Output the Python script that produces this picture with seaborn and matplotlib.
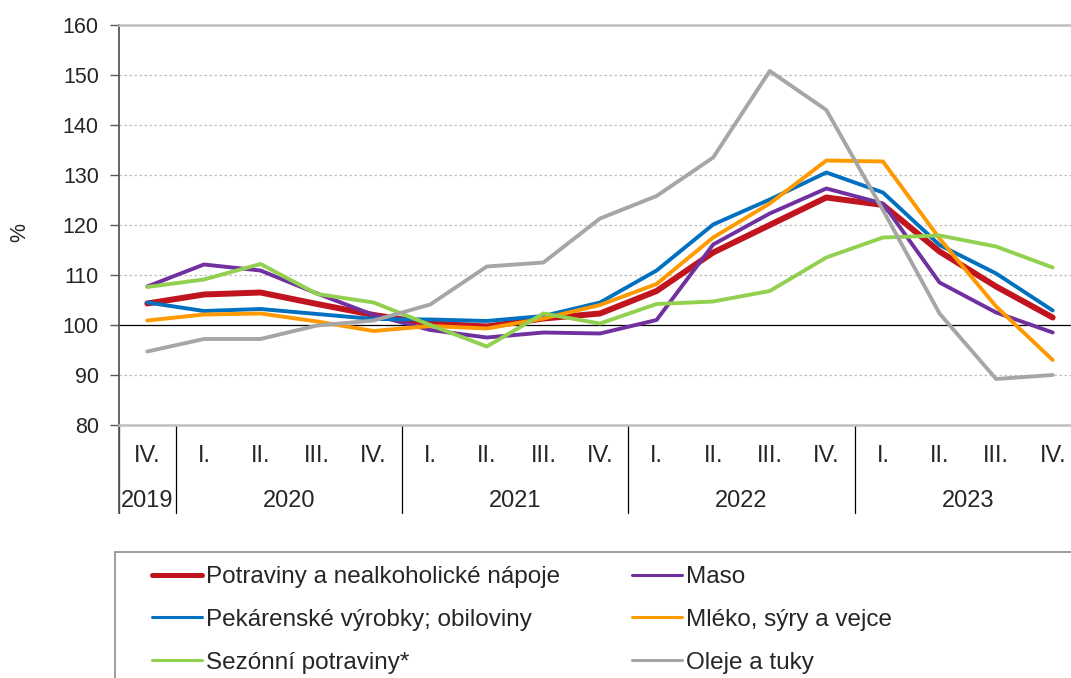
import numpy as np
import pandas as pd
import seaborn as sns
from matplotlib import pyplot as plt
from matplotlib.lines import Line2D
from matplotlib.patches import Rectangle
import matplotlib.transforms as mtransforms

quarters = ["IV.", "I.", "II.", "III.", "IV.", "I.", "II.", "III.", "IV.",
            "I.", "II.", "III.", "IV.", "I.", "II.", "III.", "IV."]
years = ["2019", "2020", "2021", "2022", "2023"]
year_counts = [1, 4, 4, 4, 4]

potraviny = [104.3, 106.1, 106.5, 104.2, 102.0, 100.3, 99.7, 101.3, 102.3,
             106.8, 114.5, 120.0, 125.5, 124.0, 114.7, 107.7, 101.5]
maso = [107.7, 112.1, 110.9, 106.3, 102.0, 99.0, 97.5, 98.5, 98.3,
        101.0, 116.1, 122.3, 127.3, 124.3, 108.5, 102.5, 98.5]
pekarenske = [104.5, 102.8, 103.2, 102.2, 101.2, 101.1, 100.8, 101.8, 104.5,
              110.9, 120.1, 125.1, 130.5, 126.5, 116.0, 110.3, 102.9]
mleko = [100.9, 102.1, 102.3, 100.7, 98.8, 99.8, 99.3, 101.3, 104.0,
         108.2, 117.5, 124.3, 132.9, 132.7, 117.3, 103.7, 93.0]
sezonni = [107.6, 109.1, 112.2, 106.2, 104.5, 100.0, 95.7, 102.3, 100.3,
           104.2, 104.7, 106.8, 113.5, 117.5, 117.9, 115.7, 111.5]
oleje = [94.7, 97.2, 97.2, 99.9, 100.9, 104.1, 111.7, 112.5, 121.3,
         125.8, 133.5, 150.8, 143.0, 123.0, 102.3, 89.2, 90.0]

# name, values, colour, line width in plot, line width in legend
series = [
    ("Potraviny a nealkoholické nápoje", potraviny, "#C0141E", 4.3, 3.6),
    ("Maso", maso, "#7030A0", 2.8, 2.2),
    ("Pekárenské výrobky; obiloviny", pekarenske, "#0070C0", 2.8, 2.2),
    ("Mléko, sýry a vejce", mleko, "#FF9900", 2.8, 2.2),
    ("Sezónní potraviny*", sezonni, "#92D050", 2.8, 2.2),
    ("Oleje a tuky", oleje, "#A6A6A6", 2.8, 2.2),
]

FS_Y = 15.5
FS_X = 17
FS_LEG = 17.5

sns.set_style("white")
plt.rcParams['font.family'] = ['Liberation Sans', 'DejaVu Sans']

fig = plt.figure(figsize=(10.71, 6.78), dpi=100)
W, H = 1071, 678
ax = fig.add_axes([119 / W, (H - 425) / H, 962 / W, 400 / H])

x = np.arange(len(quarters))
handles = {}
for i, (name, vals, color, lw, leg_lw) in enumerate(series):
    sns.lineplot(x=x, y=vals, ax=ax, color=color, linewidth=lw, zorder=3 + i)
    handles[name] = Line2D([], [], color=color, linewidth=leg_lw)

ax.set_xlim(-0.5, len(quarters) - 0.5)
ax.set_ylim(80, 160)
ax.set_yticks(range(80, 161, 10))
ax.set_xticks([])
ax.set_xlabel("")
ax.set_ylabel("")
ax.tick_params(axis='y', labelsize=FS_Y, length=6.5, width=1, color='#595959',
               direction='out', left=True, pad=8)
fig.text(20 / W, (H - 232) / H, "%", rotation=90, ha='center', va='center', fontsize=FS_Y)

for v in range(90, 160, 10):
    if v == 100:
        ax.axhline(v, color='black', linewidth=0.9, zorder=2)
    else:
        ax.axhline(v, color='#BFBFBF', linewidth=0.9, linestyle=(0, (2, 2)), zorder=1)

ax.spines['left'].set_color('#595959')
ax.spines['left'].set_linewidth(1.3)
for s in ['top', 'bottom']:
    ax.spines[s].set_color('#BFBFBF')
    ax.spines[s].set_linewidth(1.8)
ax.spines['right'].set_visible(False)

# category axis: quarters and years
trans = mtransforms.blended_transform_factory(ax.transData, ax.transAxes)
for i, q in enumerate(quarters):
    ax.text(i, -0.077, q, transform=trans, ha='center', va='center', fontsize=FS_X)

start = 0
for yr, n in zip(years, year_counts):
    mid = start + (n - 1) / 2
    ax.text(mid, -0.19, yr, transform=trans, ha='center', va='center', fontsize=FS_X)
    ax.plot([start - 0.5, start - 0.5], [0, -0.22], transform=trans, color='black',
            linewidth=0.9, clip_on=False)
    start += n
ax.plot([-0.5, -0.5], [0, -0.22], transform=trans, color='#595959', linewidth=1.3,
        clip_on=False)

# legend
order = ["Potraviny a nealkoholické nápoje", "Pekárenské výrobky; obiloviny",
         "Sezónní potraviny*", "Maso", "Mléko, sýry a vejce", "Oleje a tuky"]
fig.legend([handles[n] for n in order], order, ncol=2, loc='upper left',
           bbox_to_anchor=(152 / W, (H - 566) / H), frameon=False, fontsize=FS_LEG,
           handlelength=2.06, handletextpad=0.16, columnspacing=2.96,
           labelspacing=0.86, borderpad=0, borderaxespad=0)
fig.patches.append(Rectangle((115 / W, -0.05), 1.0, (H - 552) / H + 0.05,
                             transform=fig.transFigure, fill=False,
                             edgecolor='#8C8C8C', linewidth=1.2))

fig.savefig("out.png", dpi=100)
